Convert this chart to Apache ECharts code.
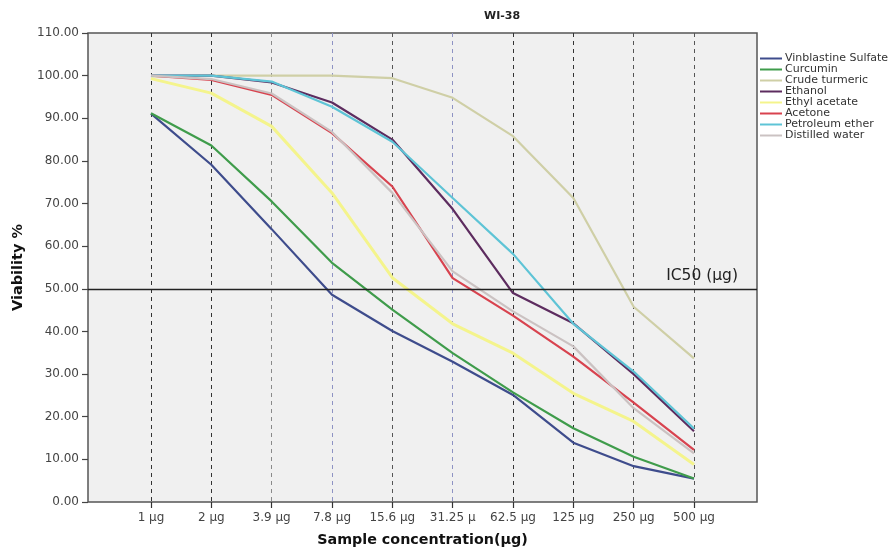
<!DOCTYPE html>
<html lang="en">
<head>
    <meta charset="UTF-8">
    <title>WI-38</title>
    <style>
        html,
        body {
            margin: 0;
            padding: 0;
            width: 100%;
            height: 100%;
            background: #fff;
        }

        #canvas {
            width: 893px;
            height: 549px;
        }
    </style>
</head>
<body>
<div id="canvas"></div>
<script src="https://cdn.jsdelivr.net/npm/echarts@6.0.0/dist/echarts.min.js"></script>
<script>
    const categories = ['1 µg', '2 µg', '3.9 µg', '7.8 µg', '15.6 µg', '31.25 µ', '62.5 µg', '125 µg', '250 µg', '500 µg']

    const vinblastine = [91.1, 79.1, 64.0, 48.6, 40.1, 32.9, 25.1, 13.9, 8.4, 5.5]
    const curcumin = [91.2, 83.6, 70.5, 56.1, 45.1, 34.9, 25.7, 17.3, 10.6, 5.5]
    const crudeTurmeric = [99.8, 100.0, 100.0, 100.0, 99.4, 94.8, 85.8, 71.3, 45.8, 33.7]
    const ethanol = [100.0, 100.0, 98.4, 93.7, 85.0, 68.7, 49.0, 41.9, 30.0, 16.6]
    const ethylAcetate = [99.3, 95.9, 88.1, 72.5, 52.6, 41.8, 34.9, 25.5, 18.9, 8.8]
    const acetone = [100.0, 99.0, 95.5, 86.5, 74.0, 52.5, 43.7, 34.1, 23.3, 12.2]
    const petroleumEther = [100.0, 100.0, 98.6, 92.7, 84.5, 71.3, 58.2, 41.8, 30.6, 17.2]
    const distilledWater = [100.0, 99.2, 95.8, 86.8, 72.5, 54.1, 44.7, 36.5, 22.0, 11.4]

    const yTicks = [0, 10, 20, 30, 40, 50, 60, 70, 80, 90, 100, 110]
    const ic50 = 50

    const lines = [
        { name: 'Vinblastine Sulfate', data: vinblastine, color: '#3e4c8c', width: 2.2 },
        { name: 'Curcumin', data: curcumin, color: '#3f9c4b', width: 2.2 },
        { name: 'Crude turmeric', data: crudeTurmeric, color: '#cfcfa6', width: 2.2 },
        { name: 'Ethanol', data: ethanol, color: '#5d2c5f', width: 2.2 },
        { name: 'Ethyl acetate', data: ethylAcetate, color: '#f4f48c', width: 3 },
        { name: 'Acetone', data: acetone, color: '#d8434f', width: 2.2 },
        { name: 'Petroleum ether', data: petroleumEther, color: '#5ec4d6', width: 2.2 },
        { name: 'Distilled water', data: distilledWater, color: '#cbc2c2', width: 2.2 }
    ]

    const font = 'DejaVu Sans'
    const chart = echarts.init(document.getElementById('canvas'))

    const series = lines.map(s => ({
        name: s.name,
        type: 'line',
        xAxisIndex: 1,
        yAxisIndex: 1,
        data: s.data,
        showSymbol: false,
        symbol: 'none',
        lineStyle: { color: s.color, width: s.width },
        itemStyle: { color: s.color }
    }))

    // reference line on the frame grid so it spans the whole box
    series.push({
        name: 'IC50',
        type: 'line',
        xAxisIndex: 0,
        yAxisIndex: 0,
        data: [],
        markLine: {
            silent: true,
            symbol: 'none',
            lineStyle: { color: '#222', width: 1.3, type: 'solid' },
            label: {
                show: true,
                formatter: 'IC50 (µg)',
                position: 'insideEndTop',
                color: '#222',
                fontFamily: font,
                fontSize: 15.5,
                padding: [0, 14, 0, 0]
            },
            data: [[{ xAxis: 0, yAxis: ic50 }, { xAxis: 1, yAxis: ic50 }]]
        }
    })

    chart.setOption({
        animation: false,
        title: {
            text: 'WI-38',
            left: 479,
            top: 6,
            textStyle: { fontFamily: font, fontSize: 11, fontWeight: 'bold', color: '#222' }
        },
        legend: {
            orient: 'vertical',
            left: 755,
            top: 48,
            itemGap: 0,
            itemWidth: 22,
            itemHeight: 2,
            icon: 'rect',
            data: lines.map(s => s.name),
            textStyle: { fontFamily: font, fontSize: 11, color: '#333', lineHeight: 10.7, padding: [0, 0, 0, -2] }
        },
        grid: [
            {
                left: 88, right: 136, top: 33, bottom: 47,
                outerBoundsMode: 'none',
                show: true,
                backgroundColor: '#f0f0f0',
                borderColor: '#555',
                borderWidth: 1.5
            },
            { left: 151, right: 199, top: 33, bottom: 47, outerBoundsMode: 'none' }
        ],
        xAxis: [
            {
                type: 'value',
                gridIndex: 0,
                min: 0,
                max: 1,
                name: 'Sample concentration(µg)',
                nameLocation: 'middle',
                nameGap: 31,
                nameTextStyle: { fontFamily: font, fontSize: 14.3, fontWeight: 'bold', color: '#111' },
                axisLine: { show: false },
                axisTick: { show: false },
                axisLabel: { show: false },
                splitLine: { show: false }
            },
            {
                type: 'category',
                gridIndex: 1,
                data: categories,
                boundaryGap: false,
                axisLine: { show: false },
                axisTick: { show: true, interval: 0, length: 6, inside: false, lineStyle: { color: '#333', width: 1.2 } },
                axisLabel: { interval: 0, margin: 10, fontFamily: font, fontSize: 12, color: '#444' },
                splitLine: {
                    show: true,
                    interval: 0,
                    lineStyle: {
                        type: [4, 4],
                        width: 1,
                        color: ['#333', '#333', '#8a8a8a', '#8e93c4', '#555', '#8e93c4', '#333', '#333', '#555', '#555']
                    }
                }
            }
        ],
        yAxis: [
            {
                type: 'value',
                gridIndex: 0,
                min: 0,
                max: 110,
                interval: 10,
                name: 'Viability %',
                nameLocation: 'middle',
                nameGap: 62,
                nameTextStyle: { fontFamily: font, fontSize: 14.5, fontWeight: 'bold', color: '#111' },
                axisLine: { show: false },
                axisTick: { show: true, length: 6, lineStyle: { color: '#444', width: 1.2 } },
                axisLabel: {
                    margin: 9,
                    fontFamily: font,
                    fontSize: 12,
                    color: '#444',
                    formatter: v => yTicks.includes(v) ? v.toFixed(2) : ''
                },
                splitLine: { show: false }
            },
            {
                type: 'value',
                gridIndex: 1,
                min: 0,
                max: 110,
                interval: 10,
                show: false,
                splitLine: { show: false }
            }
        ],
        series
    })
</script>
</body>
</html>
